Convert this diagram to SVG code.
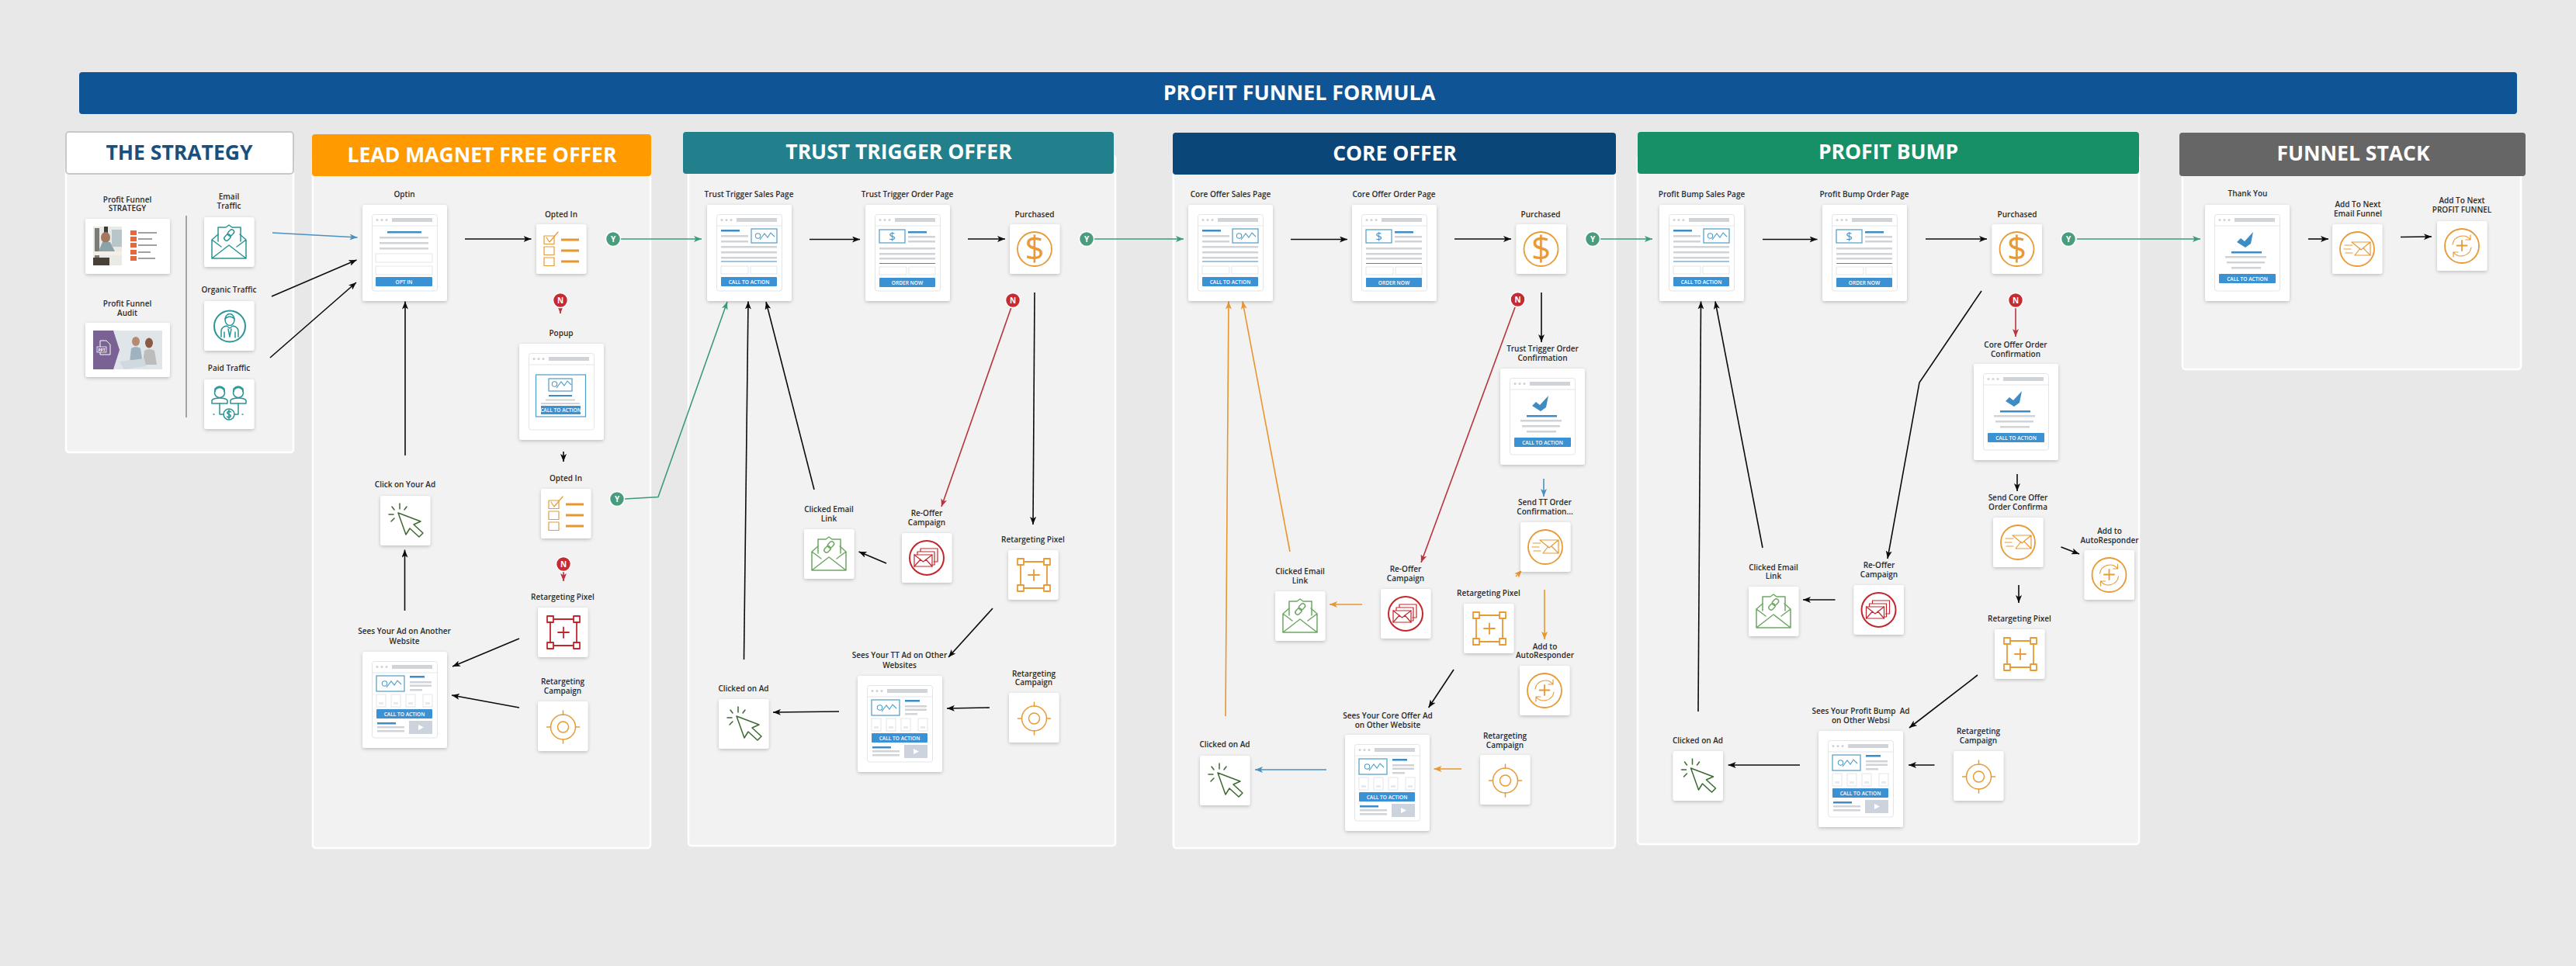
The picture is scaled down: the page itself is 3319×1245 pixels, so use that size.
<svg xmlns="http://www.w3.org/2000/svg" width="3319" height="1245" viewBox="0 0 3319 1245">
<style>
text{font-family:"Open Sans","Liberation Sans",sans-serif}
.l{font-size:10px;font-weight:600;fill:#2b2b2b;text-anchor:middle}
.h{font-size:26.500px;font-weight:700;fill:#fff;text-anchor:middle}
.p{fill:#f2f2f2;stroke:#fff;stroke-width:2.500}
.hd{stroke:none}
.card{fill:#fff;filter:url(#sh)}
.fr{fill:#fff;stroke:#e3e5e8;stroke-width:1}
.gy{fill:#d0d3d7}
.bl{fill:#3d8cc4}
.bt{fill:#3a91d3}
.box{fill:#fff;stroke:#4f9cc6;stroke-width:1.200}
.inp{fill:#fff;stroke:#e3e5e8;stroke-width:1}
.ct{font-size:6.600px;font-weight:600;fill:#fff;text-anchor:middle}
.i{fill:none;stroke:currentColor;stroke-width:1.500;stroke-linecap:round;stroke-linejoin:round}
.teal{color:#2a9497}.or{color:#e89a35}.rd{color:#c1272d}.gn{color:#3c6a32}.lg{color:#6ea864}
.c{fill:none;stroke-width:1.600}
.k{stroke:#0c0c0c;marker-end:url(#ak)}
.g{stroke:#3d9b77;marker-end:url(#ag)}
.r{stroke:#b8343f;marker-end:url(#ar)}
.o{stroke:#e8962e;marker-end:url(#ao)}
.b{stroke:#4a90c0;marker-end:url(#ab)}
.yb{fill:#4a9d7c;stroke:#fff;stroke-width:1.500}
.nb{fill:#c62b33;stroke:#fff;stroke-width:1.500}
.bt2{font-size:10px;font-weight:700;fill:#fff;text-anchor:middle}
.big{font-size:44px;fill:#e89a35;text-anchor:middle;font-weight:400}
.sm{font-size:15px;fill:#4a90c0;text-anchor:middle}
</style>
<defs>
<filter id="sh" x="-20%" y="-20%" width="140%" height="140%"><feDropShadow dx="0" dy="1.500" stdDeviation="2" flood-color="#000" flood-opacity=".22"/></filter>
<filter id="bl"><feGaussianBlur stdDeviation=".7"/></filter>
<marker id="ak" viewBox="0 0 10 8" refX="10" refY="4" markerWidth="10" markerHeight="8" markerUnits="userSpaceOnUse" orient="auto"><path d="M0 0L10 4L0 8L2.500 4Z" fill="#0c0c0c"/></marker>
<marker id="ag" viewBox="0 0 10 8" refX="10" refY="4" markerWidth="10" markerHeight="8" markerUnits="userSpaceOnUse" orient="auto"><path d="M0 0L10 4L0 8L2.500 4Z" fill="#3d9b77"/></marker>
<marker id="ar" viewBox="0 0 10 8" refX="10" refY="4" markerWidth="10" markerHeight="8" markerUnits="userSpaceOnUse" orient="auto"><path d="M0 0L10 4L0 8L2.500 4Z" fill="#b8343f"/></marker>
<marker id="ao" viewBox="0 0 10 8" refX="10" refY="4" markerWidth="10" markerHeight="8" markerUnits="userSpaceOnUse" orient="auto"><path d="M0 0L10 4L0 8L2.500 4Z" fill="#e8962e"/></marker>
<marker id="ab" viewBox="0 0 10 8" refX="10" refY="4" markerWidth="10" markerHeight="8" markerUnits="userSpaceOnUse" orient="auto"><path d="M0 0L10 4L0 8L2.500 4Z" fill="#4a90c0"/></marker>
<rect id="c64" class="card" width="64.500" height="64" rx="3"/>
<rect id="c109" class="card" width="109" height="124" rx="3"/>
<g id="chrome">
<rect class="fr" x="12.500" y="12.500" width="84" height="98.500" rx="3"/>
<path d="M12.500 27H96.500" stroke="#e3e5e8" fill="none"/>
<circle class="gy" cx="19" cy="19.500" r="1.600"/><circle class="gy" cx="25" cy="19.500" r="1.600"/><circle class="gy" cx="31" cy="19.500" r="1.600"/>
<rect class="gy" x="38" y="17" width="52" height="5"/>
</g>
<g id="chart"><circle cx="6.500" cy="8" r="3.200" fill="none" stroke="#4f9cc6" stroke-width="1.100"/><path d="M9 13L15 5L19 10L23 4L28 9" fill="none" stroke="#4f9cc6" stroke-width="1.100"/></g>
<g id="pg-sales">
<use href="#c109"/><use href="#chrome"/>
<rect class="bl" x="18" y="32" width="24" height="2.500"/>
<rect class="gy" x="18" y="39" width="35" height="2.500"/><rect class="gy" x="18" y="46" width="35" height="2.500"/>
<rect class="box" x="57" y="31" width="33" height="18"/><use href="#chart" x="59" y="32"/>
<rect class="gy" x="18" y="53" width="72" height="2.500"/><rect class="gy" x="18" y="60" width="72" height="2.500"/><rect class="gy" x="18" y="67" width="72" height="2.500"/>
<rect class="bl" x="18" y="72.500" width="72" height="1"/>
<rect class="inp" x="18" y="79" width="35" height="10"/><rect class="inp" x="56" y="79" width="34" height="10"/>
<rect class="bt" x="18" y="93" width="72" height="12" rx="1"/>
</g>
<g id="pg-order">
<use href="#c109"/><use href="#chrome"/>
<rect class="box" x="18" y="32" width="33" height="17"/>
<rect class="bl" x="55" y="34" width="24" height="2.500"/>
<rect class="gy" x="55" y="40" width="35" height="2.500"/><rect class="gy" x="55" y="46" width="35" height="2.500"/>
<rect class="gy" x="18" y="55" width="72" height="2.500"/><rect class="gy" x="18" y="62" width="72" height="2.500"/><rect class="gy" x="18" y="68" width="72" height="2.500"/>
<rect class="bl" x="18" y="75" width="72" height="1"/>
<rect class="inp" x="18" y="80" width="35" height="10"/><rect class="inp" x="56" y="80" width="34" height="10"/>
<rect class="bt" x="18" y="94" width="72" height="12" rx="1"/>
</g>
<g id="pg-optin">
<use href="#c109"/><use href="#chrome"/>
<rect class="bl" x="32" y="34" width="44" height="2.500"/>
<rect class="gy" x="22" y="41" width="63" height="2.500"/><rect class="gy" x="22" y="48" width="63" height="2.500"/><rect class="gy" x="22" y="55" width="63" height="2.500"/>
<rect class="inp" x="17" y="63" width="73" height="11"/><rect class="inp" x="17" y="79" width="73" height="11"/>
<rect class="bt" x="17" y="93" width="73" height="12" rx="1"/>
</g>
<g id="pg-popup">
<use href="#c109"/><use href="#chrome"/>
<rect class="box" x="21.500" y="40" width="64" height="54"/>
<rect class="box" x="38" y="45" width="30" height="16"/><use href="#chart" x="39" y="44"/>
<rect class="bl" x="38" y="66" width="30" height="2"/>
<rect class="gy" x="34" y="71.500" width="38" height="2"/><rect class="gy" x="28" y="76" width="50" height="2"/>
<rect class="bt" x="28" y="80" width="51" height="11"/>
</g>
<g id="pg-ad">
<use href="#c109"/><use href="#chrome"/>
<rect class="box" x="18" y="31" width="36" height="20"/><use href="#chart" x="22" y="33"/>
<rect class="bl" x="61" y="31" width="19" height="2.500"/>
<rect class="gy" x="61" y="38" width="28" height="2.500"/><rect class="gy" x="61" y="42.500" width="28" height="2.500"/><rect class="gy" x="61" y="48" width="16" height="2.500"/>
<g class="inp"><rect x="18" y="55" width="12" height="16"/><rect x="37" y="55" width="12" height="16"/><rect x="56" y="55" width="12" height="16"/><rect x="78" y="55" width="12" height="16"/></g>
<rect x="21" y="65" width="6" height="3" fill="#e8eaee"/><rect x="40" y="65" width="6" height="3" fill="#e8eaee"/><rect x="59" y="65" width="6" height="3" fill="#e8eaee"/><rect x="81" y="65" width="6" height="3" fill="#e8eaee"/>
<rect class="bt" x="18" y="74" width="72" height="12" rx="1"/>
<rect class="bl" x="19" y="91" width="24" height="2.500"/>
<rect class="gy" x="19" y="96" width="35" height="2.500"/><rect class="gy" x="19" y="101" width="35" height="2.500"/>
<rect x="60" y="89" width="30" height="17" fill="#cdd3dc"/><path d="M72 94L79 97.500L72 101Z" fill="#fff"/>
</g>
<g id="pg-conf">
<use href="#c109"/><use href="#chrome"/>
<path d="M41 48L46 43L51 47L62 35L59 50L52 55Z" fill="#3d8cc4"/>
<rect class="bl" x="34" y="60" width="39" height="2.500"/>
<rect class="gy" x="26" y="66" width="53" height="2.500"/><rect class="gy" x="28" y="73" width="49" height="2.500"/><rect class="gy" x="34" y="80" width="38" height="2.500"/>
<rect class="bt" x="18" y="89" width="73" height="12" rx="1"/>
</g>
<g id="ic-maillink" class="i">
<path d="M18 31V13H28L32 10L36 13H47V31"/>
<path d="M18 22L10 29V53H54V29L46 22M10 53L32 36L54 53M10 29L22 38M54 29L42 38"/>
<rect x="25.500" y="23" width="9" height="6" rx="3" transform="rotate(-45 30 26)"/><rect x="30" y="17" width="9" height="6" rx="3" transform="rotate(-45 34.500 20)"/>
</g>
<g id="ic-person" class="i">
<circle cx="33" cy="32.500" r="20" stroke-width="2"/>
<ellipse cx="33" cy="24" rx="6" ry="7.500"/><path d="M27 23Q33 17 39 23"/>
<path d="M22 46V38Q23 33 29 32L33 35L37 32Q43 33 44 38V46M31 36L33 46L35 36M26 40V47M40 40V47"/>
</g>
<g id="ic-paid" class="i">
<circle cx="20" cy="17" r="6.500"/><circle cx="44" cy="17" r="6.500"/>
<path d="M14 16V12Q20 6 26 12V16M38 16V12Q44 6 50 12V16"/>
<path d="M10 31V27Q12 24 20 24Q28 24 30 27V31ZM34 31V27Q36 24 44 24Q52 24 54 27V31Z"/>
<path d="M20 31V45H25M44 31V45H39"/><circle cx="32" cy="45" r="7"/><path d="M34.500 42Q32 40 30 42Q29 44 32 45Q35 46 34 48Q32 50 29.500 48M32 39.500V50.500"/>
<path d="M12 45H15M49 45H52" stroke-dasharray="1 2"/>
</g>
<g id="ic-check">
<g class="i" style="stroke-width:1.200"><rect x="10" y="15" width="13" height="10.500"/><rect x="10" y="29" width="13" height="10.500"/><rect x="10" y="43" width="13" height="10.500"/><path d="M13 17L17 23L28 10"/></g>
<path d="M32 20H55M32 34H55M32 48H55" stroke="#e8962e" stroke-width="3" fill="none"/>
</g>
<g id="ic-cursor" class="i">
<path d="M23 22L52 33L43 37L55 48L50 53L38 42L33 50Z"/>
<path d="M25 10V17M15 14L18 18M34 14L31 18M11 24H17M18 29L14 33"/>
</g>
<g id="ic-pixel" class="i" style="stroke-width:1.800">
<rect x="12" y="11" width="8" height="8"/><rect x="46" y="11" width="8" height="8"/><rect x="12" y="45" width="8" height="8"/><rect x="46" y="45" width="8" height="8"/>
<path d="M20 15H46M20 49H46M16 19V45M50 19V45M33 25.500V39M26 32H40"/>
</g>
<g id="ic-target" class="i"><circle cx="32.500" cy="33" r="16"/><circle cx="32.500" cy="33" r="7"/><path d="M32.500 12V17M32.500 49V54M11.500 33H16.500M48.500 33H53.500"/></g>
<g id="ic-reoffer" class="i" style="stroke-width:1.200"><circle cx="32" cy="32" r="22" style="stroke-width:2"/>
<path d="M24 24V20H46V37H41M20 28V24H42V41H39"/><rect x="16" y="28" width="23" height="15" style="fill:#fff"/><path d="M16 28L27.500 37L39 28M16 43L24 34M39 43L31 34"/></g>
<g id="ic-send" class="i" style="stroke-width:1.200"><circle cx="32" cy="32" r="22" style="stroke-width:1.800"/>
<path d="M25 23H49V40H29M25 23L37 33L49 23M29 40L36 31M49 40L40 31M16 27H26M15 32H24M17 37H26"/></g>
<g id="ic-auto" class="i" style="stroke-width:1.200"><circle cx="32" cy="32" r="22" style="stroke-width:1.800"/>
<path d="M20 30A13 13 0 0 1 43 24M43 18V24H37M44 34A13 13 0 0 1 21 40M21 46V40H27"/><path d="M32 25V38M25.500 31.500H38.500" style="stroke-width:1.800"/></g>
<g id="ic-dollar"><circle class="i" cx="32" cy="32" r="22" style="stroke-width:1.800"/><text class="big" x="32" y="47">$</text></g>
</defs>

<rect width="3319" height="1245" fill="#e8e8e8"/>

<g id="banner"><rect x="102" y="93" width="3141" height="54" rx="4" fill="#0f5495"/><text class="h" x="1674" y="128.500" style="font-size:26.800px">PROFIT FUNNEL FORMULA</text></g>

<g id="panels">
<g id="panel-strategy"><rect class="p" x="85" y="200" width="293" height="383" rx="4"/><rect x="85" y="170" width="293" height="54" rx="4" fill="#fff" stroke="#c8c8c8" stroke-width="2"/><text class="h" x="231" y="206" style="fill:#1b4f7c">THE STRATEGY</text></g>
<g id="panel-lead"><rect class="p" x="403" y="200" width="435" height="893" rx="4"/><rect class="hd" x="402" y="173" width="437" height="54" rx="4" fill="#ff9a00"/><text class="h" x="621" y="208.500">LEAD MAGNET FREE OFFER</text></g>
<g id="panel-trust"><rect class="p" x="887" y="200" width="550" height="890" rx="4"/><rect class="hd" x="880" y="170" width="555" height="54" rx="4" fill="#22808c"/><text class="h" x="1158" y="204.500">TRUST TRIGGER OFFER</text></g>
<g id="panel-core"><rect class="p" x="1512" y="200" width="569" height="893" rx="4"/><rect class="hd" x="1511" y="171" width="571" height="54" rx="4" fill="#0b4679"/><text class="h" x="1797" y="206.500">CORE OFFER</text></g>
<g id="panel-bump"><rect class="p" x="2110" y="200" width="646" height="888" rx="4"/><rect class="hd" x="2110" y="170" width="646" height="54" rx="4" fill="#179067"/><text class="h" x="2433" y="204.500">PROFIT BUMP</text></g>
<g id="panel-stack"><rect class="p" x="2812" y="200" width="436" height="276" rx="4"/><rect class="hd" x="2808" y="171" width="446" height="56" rx="4" fill="#666"/><text class="h" x="3032" y="206.500">FUNNEL STACK</text></g>
</g>

<g id="connectors">
<path d="M240 278V538" fill="none" stroke="#8a8a8a" stroke-width="1.500"/>
<path class="c b" d="M351 300L460.500 306"/>
<path class="c k" d="M350 382L459.500 335"/>
<path class="c k" d="M348 461L459 364"/>
<path class="c k" d="M599 308H684.500"/>
<path class="c g" d="M800 308H904"/>
<path class="c r" d="M722 396V404"/>
<path class="c k" d="M726 582V595"/>
<path class="c r" d="M726 737V749"/>
<path class="c g" d="M805 643L848 640.500L937 389"/>
<path class="c k" d="M522 587V388.500"/>
<path class="c k" d="M521.500 787V708.500"/>
<path class="c k" d="M669 823L583 859"/>
<path class="c k" d="M669 912L582 896"/>
<path class="c k" d="M1043 308.500H1108"/>
<path class="c k" d="M1247 308H1295"/>
<path class="c g" d="M1410 308H1525"/>
<path class="c k" d="M958.500 850L964 388.500"/>
<path class="c k" d="M1049 631L987 389"/>
<path class="c r" d="M1303 396L1213 653"/>
<path class="c k" d="M1333 377L1331 676"/>
<path class="c k" d="M1142 726L1106.500 711"/>
<path class="c k" d="M1279 784L1222 847"/>
<path class="c k" d="M1275 912L1220 913"/>
<path class="c k" d="M1081 917L996 918"/>
<path class="c k" d="M1663 308.500H1736"/>
<path class="c k" d="M1874 308H1947"/>
<path class="c g" d="M2062 308H2129"/>
<path class="c k" d="M1986 377V441"/>
<path class="c b" d="M1989 617V640"/>
<path class="c o" d="M1579 923L1583 388.500"/>
<path class="c o" d="M1662 711L1601 388.500"/>
<path class="c r" d="M1952 396L1831 725"/>
<path class="c o" d="M1953 743L1961 735"/>
<path class="c o" d="M1990 760V824"/>
<path class="c o" d="M1755 779H1713"/>
<path class="c k" d="M1873 863L1840.600 912"/>
<path class="c o" d="M1883 991H1847.500"/>
<path class="c b" d="M1709 992H1617"/>
<path class="c k" d="M2271 308.500H2341.500"/>
<path class="c k" d="M2481 308H2560"/>
<path class="c g" d="M2676 308H2835"/>
<path class="c k" d="M2553 375L2473 493L2432 720"/>
<path class="c r" d="M2597 396V434"/>
<path class="c k" d="M2599 611V633"/>
<path class="c k" d="M2188 917L2191.500 388.500"/>
<path class="c k" d="M2271 706L2210 388.500"/>
<path class="c k" d="M2655.500 705L2679 714"/>
<path class="c k" d="M2601 754V777"/>
<path class="c k" d="M2548 870L2460 938"/>
<path class="c k" d="M2364.500 773H2323"/>
<path class="c k" d="M2492.500 986H2459"/>
<path class="c k" d="M2319 986H2226.600"/>
<path class="c k" d="M2974 308H3000"/>
<path class="c k" d="M3093 305.500L3133 305"/>
</g>

<g id="n-profit-strategy"><text class="l"><tspan x="164" y="261">Profit Funnel</tspan><tspan x="164" y="272">STRATEGY</tspan></text>
<g transform="translate(110 282)"><rect class="card" width="109" height="71" rx="3"/><g filter="url(#bl)"><rect x="10" y="10" width="37" height="50" fill="#e9e9e6"/><rect x="12" y="12" width="6" height="38" fill="#7b7a74"/><rect x="24" y="10" width="5" height="8" fill="#3a3a38"/><ellipse cx="26" cy="24" rx="6" ry="7" fill="#a3785f"/><path d="M16 44L22 30H32L38 42Z" fill="#8aa2a8"/><rect x="34" y="14" width="13" height="22" fill="#b9c6c9"/><rect x="10" y="42" width="37" height="5" fill="#f3efe8"/><rect x="10" y="50" width="21" height="10" fill="#4a4038"/>
<g fill="#e3693e"><rect x="58" y="15" width="8" height="6"/><rect x="58" y="23" width="8" height="6"/><rect x="58" y="31" width="8" height="6"/><rect x="58" y="40" width="8" height="6"/><rect x="58" y="48" width="8" height="6"/></g>
<g fill="#a0a0a0"><rect x="68" y="17" width="24" height="2"/><rect x="68" y="25" width="18" height="2"/><rect x="68" y="33" width="24" height="2"/><rect x="68" y="42" width="16" height="2"/><rect x="68" y="50" width="22" height="2"/></g></g></g></g>

<g id="n-profit-audit"><text class="l"><tspan x="164" y="395">Profit Funnel</tspan><tspan x="164" y="407">Audit</tspan></text>
<g transform="translate(110 416)"><rect class="card" width="109" height="70" rx="3"/><g filter="url(#bl)"><rect x="10" y="10" width="89" height="50" fill="#dfe5e9"/><path d="M10 10H36L44 35L36 60H10Z" fill="#7a6294"/><ellipse cx="65" cy="24" rx="5" ry="6" fill="#b58a72"/><path d="M57 52L59 33Q65 29 71 33L74 52Z" fill="#9eb3c0"/><ellipse cx="82" cy="26" rx="5" ry="6.500" fill="#8a5a44"/><path d="M74 54L76 36Q82 32 89 36L92 54Z" fill="#bcbcbc"/><path d="M44 50L76 46L78 56L50 60Z" fill="#cfd9de"/></g>
<path d="M19 23H27L32 28V41H19Z" fill="none" stroke="#fff" stroke-width="1"/><rect x="15" y="31" width="12" height="7" fill="#7a6294" stroke="#fff" stroke-width=".8"/><text x="21" y="36.500" font-size="5" font-weight="700" fill="#fff" text-anchor="middle">PPT</text></g></g>

<g id="n-email-traffic"><text class="l"><tspan x="295" y="257">Email</tspan><tspan x="295" y="269">Traffic</tspan></text><g transform="translate(263 280)" class="teal"><use href="#c64"/><use href="#ic-maillink"/></g></g>
<g id="n-organic-traffic"><text class="l" x="295" y="377">Organic Traffic</text><g transform="translate(263 388)" class="teal"><use href="#c64"/><use href="#ic-person"/></g></g>
<g id="n-paid-traffic"><text class="l" x="295" y="478">Paid Traffic</text><g transform="translate(263 489)" class="teal"><use href="#c64"/><use href="#ic-paid"/></g></g>

<g id="n-optin"><text class="l" x="521" y="254">Optin</text><g transform="translate(467 264)"><use href="#pg-optin"/><text class="ct" x="53.500" y="101.500">OPT IN</text></g></g>
<g id="n-opted1"><text class="l" x="723" y="280">Opted In</text><g transform="translate(691 289)" class="or"><use href="#c64"/><use href="#ic-check"/></g></g>
<g id="n-y1"><circle class="yb" cx="790" cy="308" r="9.500"/><text class="bt2" x="790" y="311.500">Y</text></g>
<g id="n-n1"><circle class="nb" cx="722" cy="387" r="9.500"/><text class="bt2" x="722" y="390.500">N</text></g>
<g id="n-popup"><text class="l" x="723" y="433">Popup</text><g transform="translate(669 443)"><use href="#pg-popup"/><text class="ct" x="53.500" y="88">CALL TO ACTION</text></g></g>
<g id="n-opted2"><text class="l" x="729" y="620">Opted In</text><g transform="translate(697 630)" class="or"><use href="#c64"/><use href="#ic-check"/></g></g>
<g id="n-y2"><circle class="yb" cx="795" cy="643" r="9.500"/><text class="bt2" x="795" y="646.500">Y</text></g>
<g id="n-n2"><circle class="nb" cx="726" cy="727" r="9.500"/><text class="bt2" x="726" y="730.500">N</text></g>
<g id="n-click-ad"><text class="l" x="522" y="628">Click on Your Ad</text><g transform="translate(490 639)" class="gn"><use href="#c64"/><use href="#ic-cursor"/></g></g>
<g id="n-sees-ad"><text class="l"><tspan x="521" y="817">Sees Your Ad on Another</tspan><tspan x="521" y="829.500">Website</tspan></text><g transform="translate(467 840)"><use href="#pg-ad"/><text class="ct" x="54" y="82.500">CALL TO ACTION</text></g></g>
<g id="n-pixel1"><text class="l" x="725" y="773">Retargeting Pixel</text><g transform="translate(693 783)" class="rd"><use href="#c64"/><use href="#ic-pixel"/></g></g>
<g id="n-camp1"><text class="l"><tspan x="725" y="882">Retargeting</tspan><tspan x="725" y="894">Campaign</tspan></text><g transform="translate(693 904)" class="or"><use href="#c64"/><use href="#ic-target"/></g></g>

<g id="n-tt-sales"><text class="l" x="965" y="254">Trust Trigger Sales Page</text><g transform="translate(911 264)"><use href="#pg-sales"/><text class="ct" x="54" y="101.500">CALL TO ACTION</text></g></g>
<g id="n-tt-order"><text class="l" x="1169" y="254">Trust Trigger Order Page</text><g transform="translate(1115 264)"><use href="#pg-order"/><text class="sm" x="34.500" y="46">$</text><text class="ct" x="54" y="102.500">ORDER NOW</text></g></g>
<g id="n-tt-purchased"><text class="l" x="1333" y="280">Purchased</text><g transform="translate(1301 289)" class="or"><use href="#c64"/><use href="#ic-dollar"/></g></g>
<g id="n-y3"><circle class="yb" cx="1400" cy="308" r="9.500"/><text class="bt2" x="1400" y="311.500">Y</text></g>
<g id="n-n3"><circle class="nb" cx="1305" cy="387" r="9.500"/><text class="bt2" x="1305" y="390.500">N</text></g>
<g id="n-tt-email"><text class="l"><tspan x="1068" y="660">Clicked Email</tspan><tspan x="1068" y="672">Link</tspan></text><g transform="translate(1036 682)" class="lg"><use href="#c64"/><use href="#ic-maillink"/></g></g>
<g id="n-tt-reoffer"><text class="l"><tspan x="1194" y="665">Re-Offer</tspan><tspan x="1194" y="677">Campaign</tspan></text><g transform="translate(1162 687)" class="rd"><use href="#c64"/><use href="#ic-reoffer"/></g></g>
<g id="n-tt-pixel"><text class="l" x="1331" y="699">Retargeting Pixel</text><g transform="translate(1299 709)" class="or"><use href="#c64"/><use href="#ic-pixel"/></g></g>
<g id="n-tt-sees"><text class="l"><tspan x="1159" y="848">Sees Your TT Ad on Other</tspan><tspan x="1159" y="860.500">Websites</tspan></text><g transform="translate(1105 871)"><use href="#pg-ad"/><text class="ct" x="54" y="82.500">CALL TO ACTION</text></g></g>
<g id="n-tt-camp"><text class="l"><tspan x="1332" y="872">Retargeting</tspan><tspan x="1332" y="883">Campaign</tspan></text><g transform="translate(1300 893)" class="or"><use href="#c64"/><use href="#ic-target"/></g></g>
<g id="n-tt-clicked"><text class="l" x="958" y="891">Clicked on Ad</text><g transform="translate(926 901)" class="gn"><use href="#c64"/><use href="#ic-cursor"/></g></g>

<g id="n-co-sales"><text class="l" x="1585.500" y="254">Core Offer Sales Page</text><g transform="translate(1531 264)"><use href="#pg-sales"/><text class="ct" x="54" y="101.500">CALL TO ACTION</text></g></g>
<g id="n-co-order"><text class="l" x="1796" y="254">Core Offer Order Page</text><g transform="translate(1742 264)"><use href="#pg-order"/><text class="sm" x="34.500" y="46">$</text><text class="ct" x="54" y="102.500">ORDER NOW</text></g></g>
<g id="n-co-purchased"><text class="l" x="1985" y="280">Purchased</text><g transform="translate(1953.500 289)" class="or"><use href="#c64"/><use href="#ic-dollar"/></g></g>
<g id="n-y4"><circle class="yb" cx="2052" cy="308" r="9.500"/><text class="bt2" x="2052" y="311.500">Y</text></g>
<g id="n-n4"><circle class="nb" cx="1955.500" cy="386" r="9.500"/><text class="bt2" x="1955.500" y="389.500">N</text></g>
<g id="n-co-conf"><text class="l"><tspan x="1987.500" y="453">Trust Trigger Order</tspan><tspan x="1987.500" y="465">Confirmation</tspan></text><g transform="translate(1933 475)"><use href="#pg-conf"/><text class="ct" x="54.500" y="97.500">CALL TO ACTION</text></g></g>
<g id="n-co-send"><text class="l"><tspan x="1990.500" y="651">Send TT Order</tspan><tspan x="1990.500" y="662.500">Confirmation...</tspan></text><g transform="translate(1959 673)" class="or"><use href="#c64"/><use href="#ic-send"/></g></g>
<g id="n-co-auto"><text class="l"><tspan x="1990.500" y="837">Add to</tspan><tspan x="1990.500" y="848">AutoResponder</tspan></text><g transform="translate(1958 858)" class="or"><use href="#c64"/><use href="#ic-auto"/></g></g>
<g id="n-co-pixel"><text class="l" x="1918" y="768">Retargeting Pixel</text><g transform="translate(1886 778)" class="or"><use href="#c64"/><use href="#ic-pixel"/></g></g>
<g id="n-co-reoffer"><text class="l"><tspan x="1811" y="737">Re-Offer</tspan><tspan x="1811" y="749">Campaign</tspan></text><g transform="translate(1779 759)" class="rd"><use href="#c64"/><use href="#ic-reoffer"/></g></g>
<g id="n-co-email"><text class="l"><tspan x="1675" y="740">Clicked Email</tspan><tspan x="1675" y="752">Link</tspan></text><g transform="translate(1643 762)" class="lg"><use href="#c64"/><use href="#ic-maillink"/></g></g>
<g id="n-co-sees"><text class="l"><tspan x="1788" y="926">Sees Your Core Offer Ad</tspan><tspan x="1788" y="938">on Other Website</tspan></text><g transform="translate(1733 947)"><use href="#pg-ad"/><text class="ct" x="54" y="82.500">CALL TO ACTION</text></g></g>
<g id="n-co-camp"><text class="l"><tspan x="1939" y="952">Retargeting</tspan><tspan x="1939" y="964">Campaign</tspan></text><g transform="translate(1907 973)" class="or"><use href="#c64"/><use href="#ic-target"/></g></g>
<g id="n-co-clicked"><text class="l" x="1578" y="963">Clicked on Ad</text><g transform="translate(1546 974)" class="gn"><use href="#c64"/><use href="#ic-cursor"/></g></g>

<g id="n-pb-sales"><text class="l" x="2192.500" y="254">Profit Bump Sales Page</text><g transform="translate(2138 264)"><use href="#pg-sales"/><text class="ct" x="54" y="101.500">CALL TO ACTION</text></g></g>
<g id="n-pb-order"><text class="l" x="2402" y="254">Profit Bump Order Page</text><g transform="translate(2348 264)"><use href="#pg-order"/><text class="sm" x="34.500" y="46">$</text><text class="ct" x="54" y="102.500">ORDER NOW</text></g></g>
<g id="n-pb-purchased"><text class="l" x="2599" y="280">Purchased</text><g transform="translate(2566.500 289)" class="or"><use href="#c64"/><use href="#ic-dollar"/></g></g>
<g id="n-y5"><circle class="yb" cx="2665" cy="308" r="9.500"/><text class="bt2" x="2665" y="311.500">Y</text></g>
<g id="n-n5"><circle class="nb" cx="2597" cy="387" r="9.500"/><text class="bt2" x="2597" y="390.500">N</text></g>
<g id="n-pb-conf"><text class="l"><tspan x="2597" y="448">Core Offer Order</tspan><tspan x="2597" y="460">Confirmation</tspan></text><g transform="translate(2543 469)"><use href="#pg-conf"/><text class="ct" x="54.500" y="97.500">CALL TO ACTION</text></g></g>
<g id="n-pb-send"><text class="l"><tspan x="2600" y="645">Send Core Offer</tspan><tspan x="2600" y="657">Order Confirma</tspan></text><g transform="translate(2568 667)" class="or"><use href="#c64"/><use href="#ic-send"/></g></g>
<g id="n-pb-auto"><text class="l"><tspan x="2718" y="688">Add to</tspan><tspan x="2718" y="700">AutoResponder</tspan></text><g transform="translate(2685.500 709)" class="or"><use href="#c64"/><use href="#ic-auto"/></g></g>
<g id="n-pb-pixel"><text class="l" x="2602" y="801">Retargeting Pixel</text><g transform="translate(2570 811)" class="or"><use href="#c64"/><use href="#ic-pixel"/></g></g>
<g id="n-pb-reoffer"><text class="l"><tspan x="2421" y="732">Re-Offer</tspan><tspan x="2421" y="744">Campaign</tspan></text><g transform="translate(2388.500 754)" class="rd"><use href="#c64"/><use href="#ic-reoffer"/></g></g>
<g id="n-pb-email"><text class="l"><tspan x="2285" y="735">Clicked Email</tspan><tspan x="2285" y="746">Link</tspan></text><g transform="translate(2253 756)" class="lg"><use href="#c64"/><use href="#ic-maillink"/></g></g>
<g id="n-pb-sees"><text class="l"><tspan x="2397.500" y="920" style="white-space:pre">Sees Your Profit Bump  Ad</tspan><tspan x="2397.500" y="932">on Other Websi</tspan></text><g transform="translate(2343 942)"><use href="#pg-ad"/><text class="ct" x="54" y="82.500">CALL TO ACTION</text></g></g>
<g id="n-pb-camp"><text class="l"><tspan x="2549" y="946">Retargeting</tspan><tspan x="2549" y="958">Campaign</tspan></text><g transform="translate(2517 968)" class="or"><use href="#c64"/><use href="#ic-target"/></g></g>
<g id="n-pb-clicked"><text class="l" x="2187.500" y="958">Clicked on Ad</text><g transform="translate(2155.500 968)" class="gn"><use href="#c64"/><use href="#ic-cursor"/></g></g>

<g id="n-thankyou"><text class="l" x="2896" y="253">Thank You</text><g transform="translate(2841 264)"><use href="#pg-conf"/><text class="ct" x="54.500" y="97.500">CALL TO ACTION</text></g></g>
<g id="n-next-email"><text class="l"><tspan x="3038" y="267">Add To Next</tspan><tspan x="3038" y="279">Email Funnel</tspan></text><g transform="translate(3005 289)" class="or"><use href="#c64"/><use href="#ic-send"/></g></g>
<g id="n-next-funnel"><text class="l"><tspan x="3172" y="262">Add To Next</tspan><tspan x="3172" y="274">PROFIT FUNNEL</tspan></text><g transform="translate(3140 285)" class="or"><use href="#c64"/><use href="#ic-auto"/></g></g>
</svg>
